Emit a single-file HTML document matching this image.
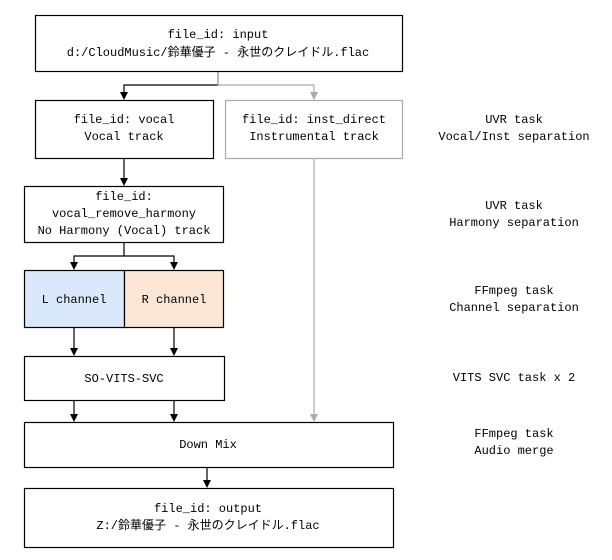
<!DOCTYPE html>
<html><head><meta charset="utf-8"><style>
body{margin:0;background:#fff;width:612px;height:555px;overflow:hidden}
svg text{font-family:"Liberation Mono","Noto Sans CJK JP",monospace;font-size:12px;text-anchor:middle;fill:#000}
</style></head><body>
<svg width="612" height="555" viewBox="0 0 612 555" xmlns="http://www.w3.org/2000/svg">
<g fill="none" stroke-width="1.2">
<path d="M218 71V85H124V93" stroke="#000"/>
<path d="M218 71V85H314V93" stroke="#aaa"/>
<path d="M124 158V179" stroke="#000"/>
<path d="M124 242V256H74V263M124 256H174V263" stroke="#000"/>
<path d="M74 327V349" stroke="#000"/>
<path d="M174 327V349" stroke="#000"/>
<path d="M74 400V415" stroke="#000"/>
<path d="M174 400V415" stroke="#000"/>
<path d="M314 158V415" stroke="#aaa"/>
<path d="M207 467V481" stroke="#000"/>
</g>
<g fill="#000">
<path d="M120 92h8l-4 8z"/>
<path d="M120 178h8l-4 8z"/>
<path d="M70 262h8l-4 8z"/>
<path d="M170 262h8l-4 8z"/>
<path d="M70 348h8l-4 8z"/>
<path d="M170 348h8l-4 8z"/>
<path d="M70 414h8l-4 8z"/>
<path d="M170 414h8l-4 8z"/>
<path d="M203 480h8l-4 8z"/>
</g>
<g fill="#aaa">
<path d="M310 92h8l-4 8z"/>
<path d="M310 414h8l-4 8z"/>
</g>
<g stroke-width="1.2" stroke="#000">
<rect x="35.5" y="15.5" width="367" height="56" fill="#fff"/>
<rect x="35.5" y="100.5" width="178" height="58" fill="#fff"/>
<rect x="225.5" y="100.5" width="177" height="58" fill="#fff" stroke="#aaa"/>
<rect x="24.5" y="186.5" width="199" height="56" fill="#fff"/>
<rect x="24.5" y="270.5" width="100" height="57" fill="#dae8fc"/>
<rect x="124.5" y="270.5" width="99" height="57" fill="#fbe5d5"/>
<rect x="24.5" y="356.5" width="200" height="44" fill="#fff"/>
<rect x="24.5" y="422.5" width="369" height="45" fill="#fff"/>
<rect x="24.5" y="488.5" width="369" height="59" fill="#fff"/>
</g>
<text x="218" y="38">file_id: input</text>
<text x="218" y="56">d:/CloudMusic/鈴華優子 - 永世のクレイドル.flac</text>
<text x="124" y="123">file_id: vocal</text>
<text x="124" y="140">Vocal track</text>
<text x="314" y="123">file_id: inst_direct</text>
<text x="314" y="140">Instrumental track</text>
<text x="124" y="200">file_id:</text>
<text x="124" y="217">vocal_remove_harmony</text>
<text x="124" y="234">No Harmony (Vocal) track</text>
<text x="74" y="303">L channel</text>
<text x="174" y="303">R channel</text>
<text x="124" y="382">SO-VITS-SVC</text>
<text x="208" y="448">Down Mix</text>
<text x="208" y="512">file_id: output</text>
<text x="208" y="529">Z:/鈴華優子 - 永世のクレイドル.flac</text>
<text x="514" y="123">UVR task</text>
<text x="514" y="140">Vocal/Inst separation</text>
<text x="514" y="209">UVR task</text>
<text x="514" y="226">Harmony separation</text>
<text x="514" y="294">FFmpeg task</text>
<text x="514" y="311">Channel separation</text>
<text x="514" y="381">VITS SVC task x 2</text>
<text x="514" y="437">FFmpeg task</text>
<text x="514" y="454">Audio merge</text>
</svg>
</body></html>
